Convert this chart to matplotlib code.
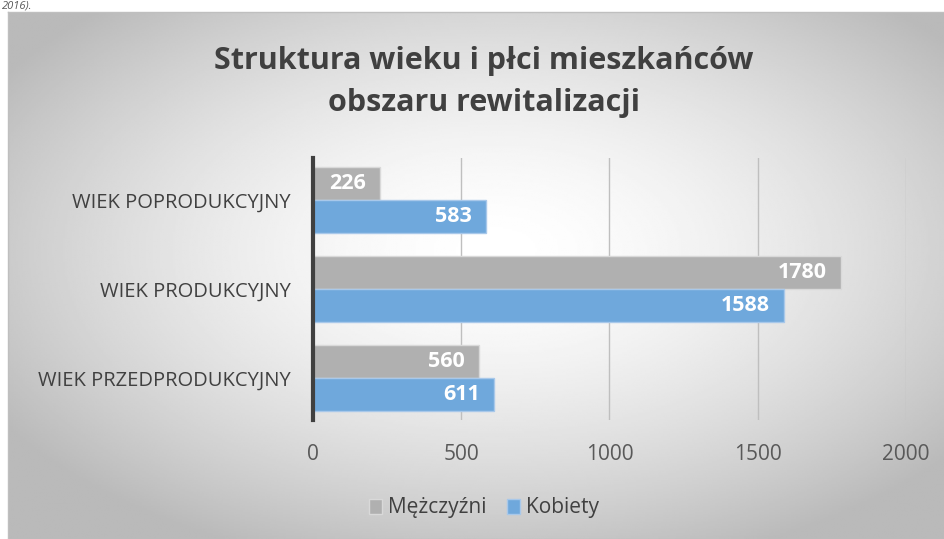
import numpy as np
import matplotlib
matplotlib.use("Agg")
import matplotlib.pyplot as plt

categories = ["WIEK PRZEDPRODUKCYJNY", "WIEK PRODUKCYJNY", "WIEK POPRODUKCYJNY"]
men = [560, 1780, 226]
women = [611, 1588, 583]
series_names = ["Mężczyźni", "Kobiety"]
xticks = [0, 500, 1000, 1500, 2000]
title = "Struktura wieku i płci mieszkańców\nobszaru rewitalizacji"
caption = "2016)."

W, H = 945, 539
fig = plt.figure(figsize=(W / 100, H / 100), dpi=100)
fig.patch.set_facecolor("white")

# chart box with radial gradient background
bx0, by0 = 8 / W, 0.0
bx1, by1 = 1.0, 1 - 12 / H
bg = fig.add_axes([bx0, by0, bx1 - bx0, by1 - by0], zorder=0)
ny, nx = 300, 520
yy, xx = np.mgrid[0:ny, 0:nx]
cx, cy = nx * 0.52, ny * 0.45
d = np.sqrt(((xx - cx) / (nx * 0.62)) ** 2 + ((yy - cy) / (ny * 0.62)) ** 2)
d = np.clip(d, 0, 1)
val = 1.0 - 0.27 * d ** 1.6
bg.imshow(val, cmap="gray", vmin=0, vmax=1, aspect="auto", extent=[0, 1, 0, 1],
          interpolation="bilinear")
bg.set_xlim(0, 1)
bg.set_ylim(0, 1)
bg.set_xticks([])
bg.set_yticks([])
for s in bg.spines.values():
    s.set_color("#bfbfbf")
    s.set_linewidth(1)

# caption fragment at the very top
fig.text(2 / W, 1 - 1 / H, caption, fontsize=8, style="italic", color="#595959",
         ha="left", va="top", family="Open Sans")

ax = fig.add_axes([313 / W, 1 - 420 / H, (906 - 313) / W, (420 - 158) / H], zorder=2)
ax.patch.set_alpha(0)

y = np.arange(len(categories))
h = 0.37
off = 0.19
grey = "#b0b0b0"
blue = "#6fa8dc"
b1 = ax.barh(y + off, men, height=h, color=grey, edgecolor="#d9d9d9", linewidth=1, zorder=3)
b2 = ax.barh(y - off, women, height=h, color=blue, edgecolor="#a8c8ea", linewidth=1, zorder=3)

for bars, vals in ((b1, men), (b2, women)):
    for rect, v in zip(bars, vals):
        ax.annotate(str(v), (v, rect.get_y() + rect.get_height() / 2),
                    xytext=(-10, 0), textcoords="offset points", ha="right", va="center",
                    color="white", fontsize=15.5, fontweight="bold", family="Open Sans", zorder=4)

ax.set_xlim(0, 2000)
ax.set_ylim(-0.472, 2.472)
ax.set_xticks(xticks)
ax.set_xticklabels([str(t) for t in xticks])
ax.set_yticks(y)
ax.set_yticklabels(categories)
ax.tick_params(axis="x", length=0, pad=17, labelsize=15, labelcolor="#595959")
ax.tick_params(axis="y", length=0, pad=16, labelsize=14.5, labelcolor="#404040")
for lab in ax.get_xticklabels() + ax.get_yticklabels():
    lab.set_family("Open Sans")
ax.grid(axis="x", color="#bfbfbf", linewidth=1, zorder=1)
ax.set_axisbelow(True)
for k in ("top", "right", "bottom"):
    ax.spines[k].set_visible(False)
ax.spines["left"].set_color("#404040")
ax.spines["left"].set_linewidth(3)
ax.spines["left"].set_zorder(5)

fig.text(484 / W, 1 - 82 / H, title, ha="center", va="center", fontsize=22,
         fontweight="bold", color="#404040", family="Open Sans", linespacing=1.5)

leg = fig.legend([b1, b2], series_names, loc="center", bbox_to_anchor=(484 / W, 1 - 508 / H),
                 ncol=2, frameon=False, handlelength=0.6, handleheight=0.7,
                 handletextpad=0.3, columnspacing=1.0, prop={"family": "Open Sans", "size": 15})
for t in leg.get_texts():
    t.set_color("#404040")

fig.savefig("out.png", dpi=100)
